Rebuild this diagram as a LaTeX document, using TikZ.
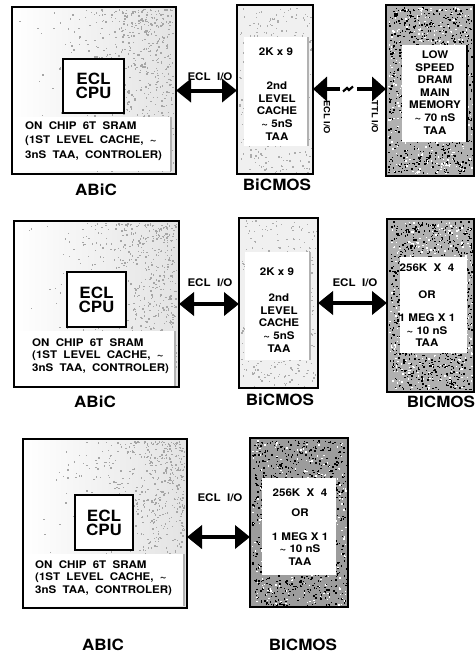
\documentclass[tikz,border=0pt]{standalone}
\usepackage{fontspec}
\setmainfont{TeX Gyre Heros}[FakeStretch=1.1]
\usetikzlibrary{arrows.meta,calc}
\newcommand\ws{\hspace{6.3pt}}
\tikzset{
  outer/.style={draw=black, line width=1.4pt, inner sep=0pt, outer sep=0pt},
  lightbox/.style={outer, fill=gray!12},
  abicbox/.style={outer, left color=white, right color=gray!22},
  darkbox/.style={outer, fill=gray!62},
  darkerbox/.style={outer, fill=gray!78},
  cpubox/.style={draw=black, line width=1.1pt, fill=white, inner sep=0pt},
  whitebox/.style={fill=white, inner sep=0pt, outer sep=0pt},
  shadow/.style={draw=gray!60, line width=2pt},
  dshadow/.style={draw=black, line width=2.5pt},
  small/.style={font=\bfseries\fontsize{10.5}{12.6}\selectfont, align=center, inner sep=0pt},
  tiny/.style={font=\bfseries\fontsize{8.5}{10}\selectfont, inner sep=0pt},
  smallL/.style={font=\bfseries\fontsize{10.5}{12.6}\selectfont, align=left, inner sep=0pt, anchor=west},
  big/.style={font=\bfseries\fontsize{15.5}{14}\selectfont, align=center, inner sep=0pt},
  lab/.style={font=\bfseries\fontsize{15.5}{18}\selectfont, inner sep=0pt},
  dbl/.style={{Triangle[length=15pt,width=23pt]}-{Triangle[length=15pt,width=23pt]}, line width=4pt},
  lhead/.style={{Triangle[length=14pt,width=24pt]}-, line width=4pt},
}
% speckle texture: x0 y0 w h count colour xexp yexp
\newcommand\myspeck[8]{%
  \foreach \k in {1,...,#5}{%
    \pgfmathsetmacro\sx{#1+#3*pow(rnd,#7)}%
    \pgfmathsetmacro\sy{#2+#4*pow(rnd,#8)}%
    \fill[#6] (\sx,\sy) rectangle ++(1.4,1.4);
  }}
\newcommand\sramtext{ON\ws CHIP\ws 6T\ws SRAM\\(1ST\ws LEVEL\ws CACHE,\ws \textasciitilde\\3nS\ws TAA,\ws CONTROLER)}
\begin{document}
\begin{tikzpicture}[x=1pt,y=-1pt]
\pgfmathsetseed{7}
\useasboundingbox (0,0) rectangle (475,656);

% ---------------- Row 1 ----------------
\node[abicbox, minimum width=164, minimum height=167] (abic1) at (94,90.5) {};
\myspeck{14}{9}{159}{162}{650}{gray!70}{0.35}{1.3}
\node[whitebox, minimum width=158, minimum height=54] (sram1) at (92,144) {};
\draw[shadow] (sram1.north east) -- (sram1.south east);
\node[smallL, font=\bfseries\fontsize{10.5}{14.2}\selectfont] (sramt1) at (25,141) {\sramtext};
\node[cpubox, minimum width=61, minimum height=54] (cpu1) at (93.5,86) {};
\node[big] (cput1) at (cpu1.center) {ECL\\CPU};
\node[lab] (abicl1) at (96,190) {ABiC};

\node[lightbox, minimum width=76, minimum height=169] (cache1) at (275,89.5) {};
\myspeck{239}{7}{72}{165}{350}{gray!65}{1}{1}
\node[whitebox, minimum width=64, minimum height=109] (cw1) at (276,91.5) {};
\draw[shadow] (cw1.north east) -- (cw1.south east);
\node[small] (ct1a) at (276,52) {2K x 9};
\node[small] (ct1b) at (277,111) {2nd\\LEVEL\\CACHE\\\textasciitilde{} 5nS\\TAA};
\node[lab] (cachel1) at (277,185) {BiCMOS};

\draw[dbl] (abic1.east) -- (abic1.east -| cache1.west);
\node[small] (io1) at (210,77) {ECL\ \ I/O};

\node[darkbox, minimum width=88, minimum height=171] (dram1) at (430,90.5) {};
\myspeck{388}{7}{84}{166}{900}{black}{1}{1}
\myspeck{388}{7}{84}{166}{350}{white}{1}{1}
\node[whitebox, minimum width=65, minimum height=97] (dw1) at (434.5,93.5) {};
\draw[dshadow] (dw1.north east) -- (dw1.south east);
\node[small] (dt1) at (435,92.5) {LOW\\SPEED\\DRAM\\MAIN\\MEMORY\\\textasciitilde{} 70 nS\\TAA};

\coordinate (bolt1) at (348,89);
\draw[lhead] (cache1.east |- bolt1) -- ($(bolt1)+(-8,0)$);
\draw[lhead] (dram1.west |- bolt1) -- ($(bolt1)+(9,0)$);
\draw[line width=2.2pt, line join=miter] ($(bolt1)+(-5,2.5)$) -- ($(bolt1)+(-1,-1)$) -- ($(bolt1)+(1,1)$) -- ($(bolt1)+(5,-2.5)$);
\node[tiny, rotate=-90] (eclv1) at (327,117) {ECL I/O};
\node[tiny, rotate=-90] (ttlv1) at (375,117) {TTL I/O};

% ---------------- Row 2 ----------------
\node[abicbox, minimum width=165, minimum height=166] (abic2) at (96.5,304) {};
\myspeck{16}{223}{160}{161}{650}{gray!70}{0.35}{1.3}
\node[whitebox, minimum width=160, minimum height=55] (sram2) at (95,358.5) {};
\draw[shadow] (sram2.north east) -- (sram2.south east);
\node[smallL] (sramt2) at (32,356) {\sramtext};
\node[cpubox, minimum width=59, minimum height=55] (cpu2) at (96.5,299.5) {};
\node[big] (cput2) at (cpu2.center) {ECL\\CPU};
\node[lab] (abicl2) at (95,402) {ABiC};

\node[lightbox, minimum width=79, minimum height=170] (cache2) at (278.5,303) {};
\myspeck{241}{220}{75}{166}{350}{gray!65}{1}{1}
\node[whitebox, minimum width=65, minimum height=108] (cw2) at (277.5,306) {};
\draw[shadow] (cw2.north east) -- (cw2.south east);
\node[small] (ct2a) at (277,272) {2K x 9};
\node[small] (ct2b) at (279,323) {2nd\\LEVEL\\CACHE\\\textasciitilde{} 5nS\\TAA};
\node[lab] (cachel2) at (280,400) {BiCMOS};

\draw[dbl] (abic2.east) -- (abic2.east -| cache2.west);
\node[small] (io2a) at (210,283) {ECL\ \ I/O};

\node[darkbox, minimum width=87, minimum height=173] (mem2) at (430.5,305.5) {};
\myspeck{389}{221}{83}{168}{900}{black}{1}{1}
\myspeck{389}{221}{83}{168}{350}{white}{1}{1}
\node[whitebox, minimum width=67, minimum height=96] (mw2) at (433.5,305) {};
\node[small] (mt2a) at (427,268) {256K\ \ X\ \ 4};
\node[small] (mt2b) at (427,295) {OR};
\node[small] (mt2c) at (427,330.5) {1 MEG X 1\\\textasciitilde{} 10 nS\\TAA};
\node[lab] (meml2) at (441,402) {BICMOS};

\draw[dbl] (cache2.east) -- (cache2.east -| mem2.west);
\node[small] (io2b) at (355,283) {ECL\ \ I/O};

% ---------------- Row 3 ----------------
\node[abicbox, minimum width=164, minimum height=169] (abic3) at (105,523.5) {};
\myspeck{25}{441}{159}{164}{650}{gray!70}{0.35}{1.3}
\node[whitebox, minimum width=160, minimum height=52] (sram3) at (104,580) {};
\draw[shadow] (sram3.north east) -- (sram3.south east);
\node[smallL] (sramt3) at (35,578) {\sramtext};
\node[cpubox, minimum width=58, minimum height=55] (cpu3) at (104,522.5) {};
\node[big] (cput3) at (cpu3.center) {ECL\\CPU};
\node[lab] (abicl3) at (103,645) {ABIC};

\node[darkerbox, minimum width=98, minimum height=169] (mem3) at (299,522.5) {};
\myspeck{252}{440}{94}{165}{900}{black}{1}{1}
\myspeck{252}{440}{94}{165}{300}{white}{1}{1}
\node[whitebox, minimum width=74, minimum height=97] (mw3) at (299,526.5) {};
\node[small] (mt3a) at (300,493) {256K\ \ X\ \ 4};
\node[small] (mt3b) at (300,513) {OR};
\node[small] (mt3c) at (300,549) {1 MEG X 1\\\textasciitilde{} 10 nS\\TAA};
\node[lab] (meml3) at (303,645) {BICMOS};

\coordinate (y3) at (0,537);
\draw[dbl] (abic3.east |- y3) -- (mem3.west |- y3);
\node[small] (io3) at (220,498) {ECL\ \ I/O};
\end{tikzpicture}
\end{document}
